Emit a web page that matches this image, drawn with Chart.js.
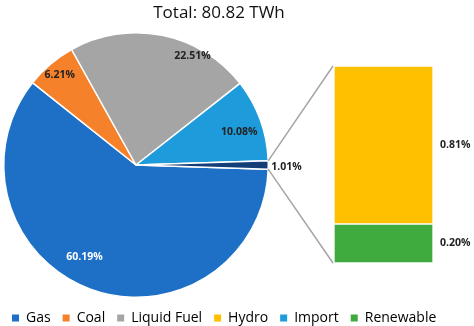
<!DOCTYPE html>
<html>
<head>
<meta charset="utf-8">
<script src="https://cdn.jsdelivr.net/npm/chart.js@4"></script>
<style>
  html, body { margin: 0; padding: 0; background: #fff; }
  #wrap { position: relative; width: 474px; height: 326px; }
  #pieChart { position: absolute; left: 0; top: 0; }
  #barChart { position: absolute; left: 262px; top: 60px; }
</style>
</head>
<body>
<div id="wrap">
  <canvas id="pieChart" width="474" height="326"></canvas>
  <canvas id="barChart" width="212" height="210"></canvas>
</div>
<script>
// ข้อมูลหลัก (ร้อยละของพลังงานทั้งหมด)
const pieLabels = ['Gas', 'Coal', 'Liquid Fuel', 'Import', 'Other'];
const pieValues = [60.19, 6.21, 22.51, 10.08, 1.01];
const pieColors = ['#1D70C6', '#F5822B', '#A5A5A5', '#1E9BDA', '#143E78'];

// ส่วนย่อยของ Other (แสดงเป็นแท่งซ้อน)
const barLabels = ['Renewable', 'Hydro'];
const barValues = [0.20, 0.81];
const barColors = ['#3FAA3E', '#FFC000'];

// รายการ legend ด้านล่าง
const legendLabels = ['Gas', 'Coal', 'Liquid Fuel', 'Hydro', 'Import', 'Renewable'];
const legendColors = ['#1D70C6', '#F5822B', '#A5A5A5', '#FFC000', '#1E9BDA', '#3FAA3E'];

const titleText = 'Total: 80.82 TWh';

Chart.defaults.font.family = "'Open Sans', sans-serif";
Chart.defaults.color = '#222';

// ตำแหน่งป้ายบนชิ้นพาย: [สัดส่วนรัศมี, เลื่อนมุม (องศา), สีตัวอักษร]
const pieLabelPlace = [
    [0.80, 9, '#fff'],
    [0.89, 0, '#222'],
    [0.93, 16, '#222'],
    [0.82, 2, '#222'],
    [1.0, 0, '#222']
];

// จัดพื้นที่วงกลมให้อยู่ด้านซ้าย (legend ยังกว้างเต็มหน้า)
const pieAreaPlugin = {
    id: 'pieArea',
    afterLayout(chart) {
        const a = chart.chartArea;
        a.left = 3; a.right = 269;
        a.top = 32; a.bottom = 298;
        a.width = 266; a.height = 266;
    }
};

// ชื่อกราฟ (วาดเอง เพราะตำแหน่งไม่อยู่กึ่งกลางพอดี)
const titlePlugin = {
    id: 'customTitle',
    afterDraw(chart) {
        const ctx = chart.ctx;
        ctx.save();
        ctx.font = "17px 'Open Sans', sans-serif";
        ctx.fillStyle = '#111';
        ctx.textAlign = 'center';
        ctx.textBaseline = 'middle';
        ctx.fillText(titleText, 219, 13);
        ctx.restore();
    }
};

const pieLabelPlugin = {
    id: 'pieLabels',
    afterDatasetsDraw(chart) {
        const ctx = chart.ctx;
        const arcs = chart.getDatasetMeta(0).data;
        ctx.save();
        ctx.font = "bold 10.5px 'Open Sans', sans-serif";
        ctx.textBaseline = 'middle';
        arcs.forEach((arc, i) => {
            const p = pieLabelPlace[i];
            const mid = (arc.startAngle + arc.endAngle) / 2 + p[1] * Math.PI / 180;
            const r = arc.outerRadius * p[0];
            let x = arc.x + Math.cos(mid) * r;
            let y = arc.y + Math.sin(mid) * r;
            ctx.fillStyle = p[2];
            ctx.textAlign = 'center';
            if (i === 4) {
                ctx.textAlign = 'left';
                x += 3;
                y += 2;
            }
            ctx.fillText(pieValues[i].toFixed(2) + '%', x, y);
        });
        ctx.restore();
    }
};

const pieChart = new Chart(document.getElementById('pieChart'), {
    type: 'pie',
    data: {
        labels: pieLabels,
        datasets: [{
            data: pieValues,
            backgroundColor: pieColors,
            borderColor: '#fff',
            borderWidth: 1.5
        }]
    },
    options: {
        responsive: false,
        animation: false,
        rotation: 90 + 1.01 * 3.6 / 2,
        layout: { padding: { bottom: -9 } },
        plugins: {
            title: { display: false },
            legend: {
                position: 'bottom',
                align: 'start',
                onClick: null,
                labels: {
                    boxWidth: 7,
                    boxHeight: 7,
                    padding: 12,
                    color: '#222',
                    font: { size: 14 },
                    generateLabels: () => legendLabels.map((t, i) => ({
                        text: t,
                        fillStyle: legendColors[i],
                        strokeStyle: legendColors[i],
                        lineWidth: 0,
                        hidden: false,
                        index: i
                    }))
                }
            },
            tooltip: { enabled: false }
        }
    },
    plugins: [pieAreaPlugin, titlePlugin, pieLabelPlugin]
});

// วาดเส้นเชื่อมจากชิ้น Other ไปยังแท่ง และป้ายค่าของแท่ง
const barExtrasPlugin = {
    id: 'barExtras',
    afterDatasetsDraw(chart) {
        const ctx = chart.ctx;
        const area = chart.chartArea;
        const offX = 262, offY = 60;
        const arc = pieChart.getDatasetMeta(0).data[4];
        const p1x = arc.x + Math.cos(arc.startAngle) * arc.outerRadius - offX;
        const p1y = arc.y + Math.sin(arc.startAngle) * arc.outerRadius - offY;
        const p2x = arc.x + Math.cos(arc.endAngle) * arc.outerRadius - offX;
        const p2y = arc.y + Math.sin(arc.endAngle) * arc.outerRadius - offY;
        ctx.save();
        ctx.strokeStyle = '#A5A5A5';
        ctx.lineWidth = 1.5;
        ctx.beginPath();
        ctx.moveTo(p1x, p1y);
        ctx.lineTo(area.left - 1, area.top);
        ctx.moveTo(p2x, p2y);
        ctx.lineTo(area.left - 1, area.bottom);
        ctx.stroke();

        ctx.font = "bold 10.5px 'Open Sans', sans-serif";
        ctx.fillStyle = '#222';
        ctx.textAlign = 'left';
        ctx.textBaseline = 'middle';
        chart.data.datasets.forEach((ds, i) => {
            const bar = chart.getDatasetMeta(i).data[0];
            const yMid = (bar.y + bar.base) / 2;
            ctx.fillText(ds.data[0].toFixed(2) + '%', area.right + 7, yMid);
        });
        ctx.restore();
    }
};

new Chart(document.getElementById('barChart'), {
    type: 'bar',
    data: {
        labels: ['Other'],
        datasets: barLabels.map((name, i) => ({
            label: name,
            data: [barValues[i]],
            backgroundColor: barColors[i],
            borderColor: '#fff',
            borderWidth: 1,
            borderSkipped: false,
            barPercentage: 1,
            categoryPercentage: 1
        }))
    },
    options: {
        responsive: false,
        animation: false,
        layout: { padding: { left: 72, right: 41, top: 6, bottom: 7 } },
        scales: {
            x: { stacked: true, display: false },
            y: { stacked: true, display: false, min: 0, max: 1.01 }
        },
        plugins: {
            legend: { display: false },
            tooltip: { enabled: false }
        }
    },
    plugins: [barExtrasPlugin]
});
</script>
</body>
</html>
